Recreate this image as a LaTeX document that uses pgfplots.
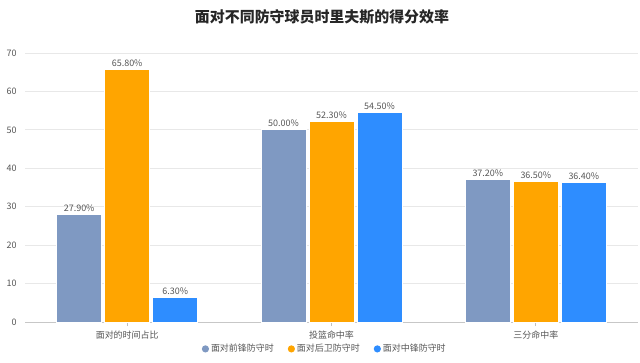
\documentclass[border=0pt]{standalone}
\usepackage{pgfplots}
\pgfplotsset{compat=1.18}
\usepackage{fontspec}
\setmainfont{Noto Sans CJK SC}
\definecolor{cA}{HTML}{7F99C2}
\definecolor{cB}{HTML}{FFA500}
\definecolor{cC}{HTML}{2E8DFF}
\definecolor{txt}{HTML}{555555}
\definecolor{gridc}{HTML}{E8E8E8}
\begin{document}
\begin{tikzpicture}[x=1bp,y=1bp]
\useasboundingbox (0,0) rectangle (640,362);
\node[font=\fontsize{15}{18}\selectfont\bfseries, text=black!85] at (322,345) {面对不同防守球员时里夫斯的得分效率};
\begin{axis}[
  at={(25bp,40bp)}, anchor=south west,
  scale only axis, width=613bp, height=269bp,
  ybar=3bp, bar width=45bp,
  xmin=-0.5, xmax=2.5, ymin=0, ymax=70,
  ytick={0,10,...,70},
  xtick=data, xticklabels={面对的时间占比,投篮命中率,三分命中率},
  axis x line*=bottom, axis y line*=left,
  x axis line style={draw=black!22, line width=1bp},
  y axis line style={draw=none},
  xtick style={draw=black!25, line width=0.8bp},
  major tick length=4bp,
  tick align=outside,
  ymajorgrids, grid style={draw=gridc, line width=0.8bp},
  ytick style={draw=none},
  /pgf/number format/assume math mode=true,
  tick label style={font=\fontsize{9}{11}\selectfont, text=txt},
  yticklabel style={xshift=-1bp},
  xticklabel style={yshift=-1bp},
  nodes near coords={\pgfmathprintnumber[fixed,fixed zerofill,precision=2]{\pgfplotspointmeta}\%},
  nodes near coords style={font=\fontsize{9}{11}\selectfont, text=txt, /pgf/number format/assume math mode=true, yshift=-1bp},
  legend columns=3,
  legend style={at={(0.489,-0.1)}, anchor=center, draw=none, fill=none,
    font=\fontsize{9}{11}\selectfont, text=txt,
    /tikz/every even column/.append style={column sep=12bp}},
  legend image code/.code={\fill[#1, draw=none] (0.2cm,0bp) circle (3.6bp);},
]
\addplot[fill=cA, draw=white, line width=1bp] coordinates {(0,27.9) (1,50.0) (2,37.2)};
\addplot[fill=cB, draw=white, line width=1bp] coordinates {(0,65.8) (1,52.3) (2,36.5)};
\addplot[fill=cC, draw=white, line width=1bp] coordinates {(0,6.3) (1,54.5) (2,36.4)};
\legend{面对前锋防守时,面对后卫防守时,面对中锋防守时}
\end{axis}
\end{tikzpicture}
\end{document}
